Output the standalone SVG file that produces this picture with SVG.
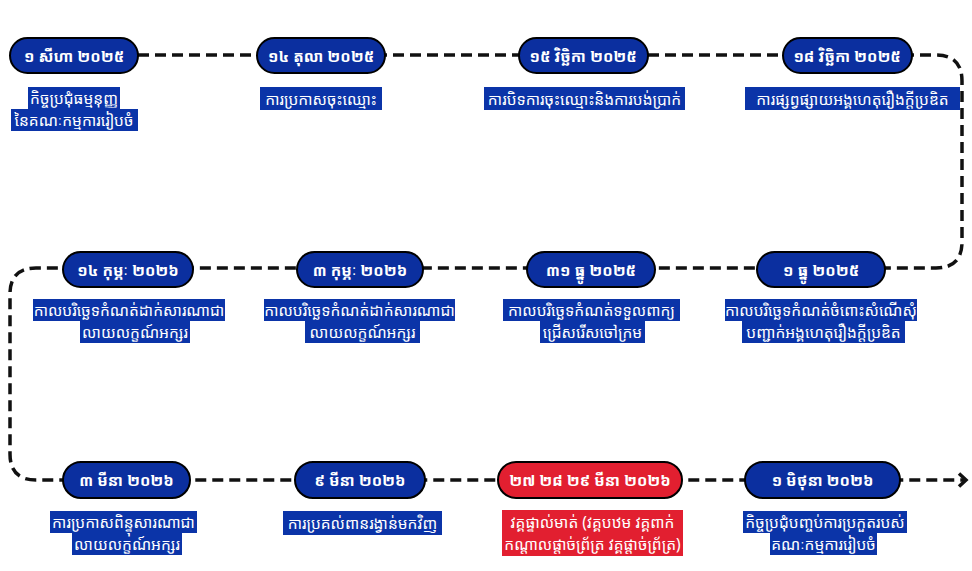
<svg xmlns="http://www.w3.org/2000/svg" width="972" height="571" viewBox="0 0 972 571">
<defs>
<style>
.pill{fill:#0b2f9f;stroke:#000;stroke-width:2}
.pill.red{fill:#e21f30}
.lbl{fill:#0b34a8}
.lbl.red{fill:#e21f30}
.dt{font-family:"Noto Sans Khmer","Khmer OS","Noto Sans","DejaVu Sans",sans-serif;font-size:15.5px;font-weight:bold;fill:#fff;text-anchor:middle;dominant-baseline:central}
.tx{font-family:"Noto Sans Khmer","Khmer OS","Noto Sans","DejaVu Sans",sans-serif;font-size:15.5px;fill:#fff;text-anchor:middle;dominant-baseline:central}
.conn{fill:none;stroke:#111;stroke-width:3.5;stroke-dasharray:11 6}
</style>
<marker id="arr" markerWidth="14" markerHeight="16" refX="10" refY="8" orient="auto" markerUnits="userSpaceOnUse">
<polyline points="3,1.5 10,8 3,14.5" fill="none" stroke="#111" stroke-width="3.5"/>
</marker>
</defs>
<rect width="972" height="571" fill="#fff"/>
<g id="connectors">
<path class="conn" d="M138,55 H936 Q962,55 962,81 V242 Q962,268 936,268 H36 Q10,268 10,294 V454 Q10,480 36,480 H966" marker-end="url(#arr)"/>
</g>
<g id="n1">
<rect class="pill" x="10" y="38" width="128" height="35" rx="17.5"/>
<text class="dt" x="74" y="55.5">១ សីហា ២០២៥</text>
<rect class="lbl" x="28" y="87" width="92" height="22"/>
<rect class="lbl" x="11" y="109" width="127" height="22"/>
<text class="tx" x="74" y="98">កិច្ចប្រជុំធម្មនុញ្ញ</text>
<text class="tx" x="74" y="120">នៃគណៈកម្មការរៀបចំ</text>
</g>
<g id="n2">
<rect class="pill" x="257" y="38" width="128" height="35" rx="17.5"/>
<text class="dt" x="321" y="55.5">១៤ តុលា ២០២៥</text>
<rect class="lbl" x="260" y="87" width="122" height="23"/>
<text class="tx" x="321" y="98.5">ការប្រកាសចុះឈ្មោះ</text>
</g>
<g id="n3">
<rect class="pill" x="519" y="38" width="129" height="35" rx="17.5"/>
<text class="dt" x="583" y="55.5">១៥ វិច្ឆិកា ២០២៥</text>
<rect class="lbl" x="484" y="87" width="201" height="23"/>
<text class="tx" x="584.5" y="98.5">ការបិទការចុះឈ្មោះនិងការបង់ប្រាក់</text>
</g>
<g id="n4">
<rect class="pill" x="783" y="38" width="129" height="35" rx="17.5"/>
<text class="dt" x="847" y="55.5">១៨ វិច្ឆិកា ២០២៥</text>
<rect class="lbl" x="745" y="87" width="215" height="23"/>
<text class="tx" x="852.5" y="98.5">ការផ្សព្វផ្សាយអង្គហេតុរឿងក្តីប្រឌិត</text>
</g>
<g id="n5">
<rect class="pill" x="757" y="252" width="128" height="35" rx="17.5"/>
<text class="dt" x="821" y="269.5">១ ធ្នូ ២០២៥</text>
<rect class="lbl" x="725" y="299" width="192" height="22"/>
<rect class="lbl" x="742" y="321" width="163" height="22"/>
<text class="tx" x="821" y="310">កាលបរិច្ឆេទកំណត់ចំពោះសំណើសុំ</text>
<text class="tx" x="823.5" y="332">បញ្ជាក់អង្គហេតុរឿងក្តីប្រឌិត</text>
</g>
<g id="n6">
<rect class="pill" x="527" y="252" width="128" height="35" rx="17.5"/>
<text class="dt" x="591" y="269.5">៣១ ធ្នូ ២០២៥</text>
<rect class="lbl" x="503" y="299" width="177" height="22"/>
<rect class="lbl" x="540" y="321" width="105" height="22"/>
<text class="tx" x="591.5" y="310">កាលបរិច្ឆេទកំណត់ទទួលពាក្យ</text>
<text class="tx" x="592.5" y="332">ជ្រើសរើសចៅក្រម</text>
</g>
<g id="n7">
<rect class="pill" x="297" y="252" width="126" height="35" rx="17.5"/>
<text class="dt" x="360" y="269.5">៣ កុម្ភៈ ២០២៦</text>
<rect class="lbl" x="264" y="299" width="191" height="22"/>
<rect class="lbl" x="305" y="321" width="115" height="22"/>
<text class="tx" x="359.5" y="310">កាលបរិច្ឆេទកំណត់ដាក់សារណាជា</text>
<text class="tx" x="362.5" y="332">លាយលក្ខណ៍អក្សរ</text>
</g>
<g id="n8">
<rect class="pill" x="63" y="252" width="130" height="35" rx="17.5"/>
<text class="dt" x="128" y="269.5">១៤ កុម្ភៈ ២០២៦</text>
<rect class="lbl" x="33" y="299" width="192" height="22"/>
<rect class="lbl" x="80" y="321" width="110" height="22"/>
<text class="tx" x="129" y="310">កាលបរិច្ឆេទកំណត់ដាក់សារណាជា</text>
<text class="tx" x="135" y="332">លាយលក្ខណ៍អក្សរ</text>
</g>
<g id="n9">
<rect class="pill" x="63" y="462" width="127" height="36" rx="18"/>
<text class="dt" x="126.5" y="480">៣ មីនា ២០២៦</text>
<rect class="lbl" x="50" y="511" width="147" height="22"/>
<rect class="lbl" x="72" y="533" width="110" height="22"/>
<text class="tx" x="123.5" y="522">ការប្រកាសពិន្ទុសារណាជា</text>
<text class="tx" x="127" y="544">លាយលក្ខណ៍អក្សរ</text>
</g>
<g id="n10">
<rect class="pill" x="295" y="462" width="130" height="36" rx="18"/>
<text class="dt" x="360" y="480">៩ មីនា ២០២៦</text>
<rect class="lbl" x="283" y="511" width="159" height="24"/>
<text class="tx" x="362.5" y="523">ការប្រគល់ពានរង្វាន់មកវិញ</text>
</g>
<g id="n11">
<rect class="pill red" x="498" y="462" width="184" height="36" rx="18"/>
<text class="dt" x="590" y="480">២៧ ២៨ ២៩ មីនា ២០២៦</text>
<rect class="lbl red" x="502" y="510" width="181" height="46"/>
<text class="tx" x="592.5" y="522">វគ្គផ្ទាល់មាត់ (វគ្គបឋម វគ្គពាក់</text>
<text class="tx" x="592.5" y="544">កណ្តាលផ្តាច់ព្រ័ត្រ វគ្គផ្តាច់ព្រ័ត្រ)</text>
</g>
<g id="n12">
<rect class="pill" x="745" y="462" width="155" height="36" rx="18"/>
<text class="dt" x="822.5" y="480">១ មិថុនា ២០២៦</text>
<rect class="lbl" x="743" y="511" width="164" height="22"/>
<rect class="lbl" x="770" y="533" width="107" height="22"/>
<text class="tx" x="825" y="522">កិច្ចប្រជុំបញ្ចប់ការប្រកួតរបស់</text>
<text class="tx" x="823.5" y="544">គណៈកម្មការរៀបចំ</text>
</g>
</svg>
